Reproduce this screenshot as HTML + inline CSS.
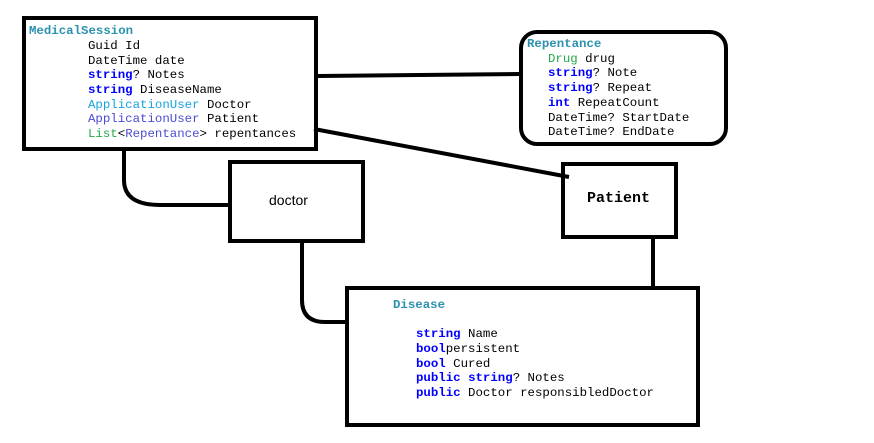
<!DOCTYPE html>
<html><head><style>
html,body{margin:0;padding:0;background:#fff;width:874px;height:443px;overflow:hidden}
svg{display:block}
text{font-family:"Liberation Mono",monospace;font-size:12.4px;fill:#000}
.t{fill:#2b91af;font-weight:bold}
.k{fill:#0000ff;font-weight:bold}
.c{fill:#2b91af}
.a{fill:#16a3e0}
.b{fill:#4b4bd6}
.g{fill:#22a84a}
</style></head><body>
<svg width="874" height="443" viewBox="0 0 874 443">
<g fill="none" stroke="#000" stroke-width="4">
<rect x="24" y="18" width="292" height="131"/>
<rect x="521" y="32" width="205" height="112" rx="16"/>
<rect x="230" y="162" width="133" height="79"/>
<rect x="563" y="164" width="113" height="73"/>
<rect x="347" y="288" width="351" height="137"/>
<line x1="318" y1="76" x2="519" y2="74"/>
<line x1="314" y1="129" x2="569" y2="177"/>
<path d="M124 151 V180 Q124 205 160 205 H228"/>
<path d="M302 240 V300 Q302 322 325 322 H345"/>
<line x1="653" y1="239" x2="653" y2="286"/>
</g>
<text x="29" y="34" class="t">MedicalSession</text>
<text x="88" y="49">Guid Id</text>
<text x="88" y="64">DateTime date</text>
<text x="88" y="78"><tspan class="k">string</tspan>? Notes</text>
<text x="88" y="93"><tspan class="k">string</tspan> DiseaseName</text>
<text x="88" y="108"><tspan class="a">ApplicationUser</tspan> Doctor</text>
<text x="88" y="122"><tspan class="b">ApplicationUser</tspan> Patient</text>
<text x="88" y="137"><tspan class="g">List</tspan>&lt;<tspan class="b">Repentance</tspan>&gt; repentances</text>
<text x="527" y="47" class="t">Repentance</text>
<text x="548" y="62"><tspan class="g">Drug</tspan> drug</text>
<text x="548" y="76"><tspan class="k">string</tspan>? Note</text>
<text x="548" y="91"><tspan class="k">string</tspan>? Repeat</text>
<text x="548" y="106"><tspan class="k">int</tspan> RepeatCount</text>
<text x="548" y="121">DateTime? StartDate</text>
<text x="548" y="135">DateTime? EndDate</text>
<text x="269" y="205" style="font-family:'Liberation Sans',sans-serif;font-size:14px">doctor</text>
<text x="587" y="202" style="font-size:15px;font-weight:bold">Patient</text>
<text x="393" y="308" class="t">Disease</text>
<text x="416" y="337"><tspan class="k">string</tspan> Name</text>
<text x="416" y="352"><tspan class="k">bool</tspan>persistent</text>
<text x="416" y="367"><tspan class="k">bool</tspan> Cured</text>
<text x="416" y="381"><tspan class="k">public</tspan> <tspan class="k">string</tspan>? Notes</text>
<text x="416" y="396"><tspan class="k">public</tspan> Doctor responsibledDoctor</text>
</svg>
</body></html>
